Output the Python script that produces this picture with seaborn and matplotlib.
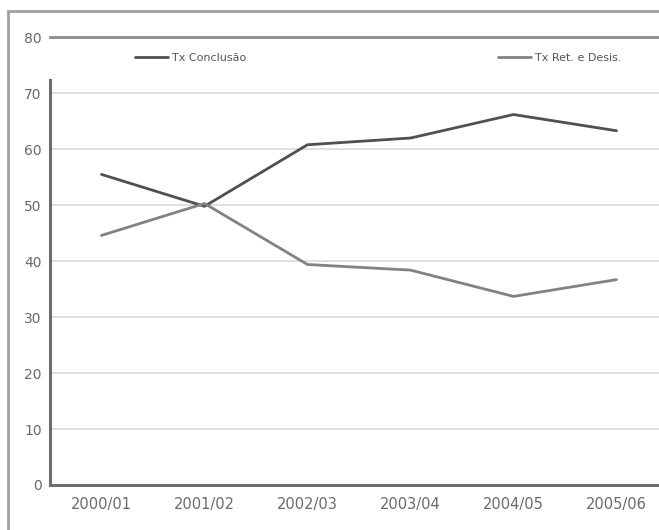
import pandas as pd
import matplotlib
matplotlib.use("Agg")
import matplotlib.pyplot as plt
from matplotlib.patches import Rectangle
from matplotlib.lines import Line2D
import seaborn as sns

# data
anos = ["2000/01", "2001/02", "2002/03", "2003/04", "2004/05", "2005/06"]
tx_conclusao = [55.5, 49.8, 60.8, 62.0, 66.2, 63.3]
tx_ret_desis = [44.6, 50.3, 39.4, 38.4, 33.7, 36.7]
series_names = ["Tx Conclusão", "Tx Ret. e Desis."]
series_colors = ["#505050", "#828282"]
y_ticks = [0, 10, 20, 30, 40, 50, 60, 70, 80]

df = pd.DataFrame({
    "ano": anos * 2,
    "valor": tx_conclusao + tx_ret_desis,
    "serie": [series_names[0]] * len(anos) + [series_names[1]] * len(anos),
})

sns.set_style("white")
plt.rcParams["font.family"] = ["DejaVu Sans"]

fig = plt.figure(figsize=(6.59, 5.30), dpi=100)
ax = fig.add_axes([50 / 659, 45 / 530, 618 / 659, 447.7 / 530])

sns.lineplot(data=df, x="ano", y="valor", hue="serie", palette=series_colors,
             linewidth=2.0, ax=ax, legend=False, sort=False)

ax.set_xlim(-0.5, 5.5)
ax.set_ylim(0, 80)
ax.set_yticks(y_ticks)
ax.set_yticklabels([str(t) for t in y_ticks], fontsize=10, color="#6a6a6a")
ax.set_xticks(range(len(anos)))
ax.set_xticklabels(anos, fontsize=10.5, color="#6a6a6a")
ax.set_xticks([i + 0.5 for i in range(len(anos) - 1)], minor=True)
ax.tick_params(axis="x", which="major", length=0, pad=9)
ax.tick_params(axis="x", which="minor", length=3, width=1.5, color="#777777", direction="out")
ax.tick_params(axis="y", length=3, width=1, color="#777777", pad=3)
ax.set_xlabel("")
ax.set_ylabel("")

# grid
for t in y_ticks[1:-1]:
    ax.axhline(t, color="#dadada", lw=1.2, zorder=0)

for side in ["left", "bottom", "top"]:
    ax.spines[side].set_visible(True)
ax.spines["right"].set_visible(False)
ax.spines["left"].set_color("#6e6e6e")
ax.spines["left"].set_linewidth(2.2)
ax.spines["left"].set_bounds(0, 72.3)
ax.spines["bottom"].set_color("#6e6e6e")
ax.spines["bottom"].set_linewidth(2.2)
ax.spines["top"].set_color("#8c8c8c")
ax.spines["top"].set_linewidth(2.0)

# legend, two separate entries
for name, col, xpos in zip(series_names, series_colors, [135 / 659, 498 / 659]):
    h = Line2D([], [], color=col, lw=2.0)
    leg = fig.legend([h], [name], loc="center left", bbox_to_anchor=(xpos, 472 / 530),
                     frameon=False, fontsize=8, handlelength=3.0, handletextpad=0.3,
                     borderaxespad=0, borderpad=0)
    for txt in leg.get_texts():
        txt.set_color("#555555")

# outer chart frame
fig.add_artist(Rectangle((8 / 659, -0.1), 1.2, 519 / 530 + 0.1, transform=fig.transFigure,
                         fill=False, ec="#a0a0a0", lw=2.0))

fig.savefig("out.png", dpi=100)
